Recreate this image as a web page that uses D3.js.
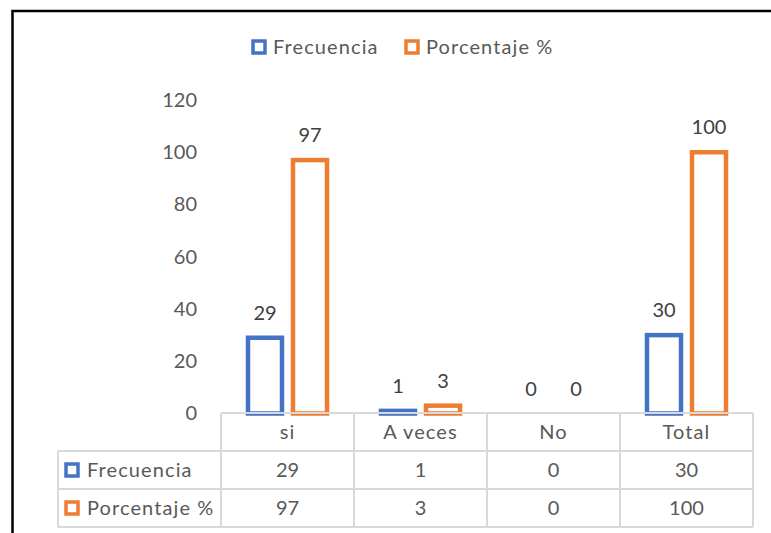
<!DOCTYPE html>
<html>
<head>
<meta charset="UTF-8">
<title></title>
<style>
  body { margin: 0; background: #fff; }
  text { font-family: Lato, "Open Sans", sans-serif; }
  .palabra { letter-spacing: 1.1px; }
</style>
</head>
<body>
<svg width="771" height="533"></svg>
<script src="https://cdn.jsdelivr.net/npm/d3@7"></script>
<script>
// datos
var categorias = ["si", "A veces", "No", "Total"];
var series = ["Frecuencia", "Porcentaje %"];
var frecuencia = [29, 1, 0, 30];
var porcentaje = [97, 3, 0, 100];
var ticksY = [0, 20, 40, 60, 80, 100, 120];

var colores = ["#4472C4", "#ED7D31"];
var valores = [frecuencia, porcentaje];
var fs = 20;

var svg = d3.select("svg");

// marco del grafico
svg.append("rect")
  .attr("x", 12.5).attr("y", 11)
  .attr("width", 800).attr("height", 600)
  .attr("fill", "#fff")
  .attr("stroke", "#000").attr("stroke-width", 2.5);

var x = d3.scaleBand().domain(categorias).range([221, 753]);
var x1 = d3.scaleBand().domain(series).range([-45, 45]);
var y = d3.scaleLinear().domain([0, 120]).range([413.5, 100]);
var anchoBarra = 34;

// eje Y
var ejeY = svg.append("g")
  .attr("transform", "translate(200,0)")
  .call(d3.axisLeft(y).tickValues(ticksY).tickSize(0).tickPadding(3));
ejeY.select(".domain").remove();
ejeY.selectAll("text")
  .attr("font-family", "Lato, sans-serif")
  .attr("font-size", fs)
  .attr("fill", "#595959");

// barras
series.forEach(function(s, i) {
  var datos = categorias.map(function(c, j) { return {cat: c, v: valores[i][j]}; });
  var g = svg.append("g");
  g.selectAll("rect")
    .data(datos.filter(function(d) { return d.v > 0; }))
    .join("rect")
    .attr("x", function(d) { return x(d.cat) + x.bandwidth() / 2 + x1(s) + (x1.bandwidth() - anchoBarra) / 2; })
    .attr("y", function(d) { return y(d.v); })
    .attr("width", anchoBarra)
    .attr("height", function(d) { return y(0) - y(d.v); })
    .attr("fill", "#fff")
    .attr("stroke", colores[i])
    .attr("stroke-width", 4.5);
  g.selectAll("text")
    .data(datos)
    .join("text")
    .attr("x", function(d) { return x(d.cat) + x.bandwidth() / 2 + x1(s) + x1.bandwidth() / 2; })
    .attr("y", function(d) { return y(d.v) - 18; })
    .attr("text-anchor", "middle")
    .attr("font-size", fs)
    .attr("fill", "#404040")
    .text(function(d) { return d.v; });
});

// tabla de datos
var gris = "#D9D9D9";
var filas = [413, 451, 489, 527];
var tabla = svg.append("g").attr("stroke", gris).attr("stroke-width", 2);
tabla.append("line").attr("x1", 221).attr("x2", 753).attr("y1", filas[0]).attr("y2", filas[0]);
filas.slice(1).forEach(function(f) {
  tabla.append("line").attr("x1", 58).attr("x2", 753).attr("y1", f).attr("y2", f);
});
tabla.append("line").attr("x1", 58).attr("x2", 58).attr("y1", filas[1]).attr("y2", filas[3]);
x.domain().forEach(function(c) {
  tabla.append("line").attr("x1", x(c)).attr("x2", x(c)).attr("y1", filas[0]).attr("y2", filas[3]);
});
tabla.append("line").attr("x1", 753).attr("x2", 753).attr("y1", filas[0]).attr("y2", filas[3]);

svg.selectAll(".cat")
  .data(categorias)
  .join("text")
  .attr("class", "cat palabra")
  .attr("x", function(d) { return x(d) + x.bandwidth() / 2; })
  .attr("y", (filas[0] + filas[1]) / 2 + 7)
  .attr("text-anchor", "middle")
  .attr("font-size", fs)
  .attr("fill", "#595959")
  .text(function(d) { return d; });

series.forEach(function(s, i) {
  var cy = (filas[i + 1] + filas[i + 2]) / 2;
  svg.append("rect")
    .attr("x", 66).attr("y", cy - 6)
    .attr("width", 12).attr("height", 12)
    .attr("fill", "#fff").attr("stroke", colores[i]).attr("stroke-width", 3.5);
  svg.append("text")
    .attr("class", "palabra")
    .attr("x", 87).attr("y", cy + 7)
    .attr("font-size", fs).attr("fill", "#595959")
    .text(s);
  svg.selectAll(".val" + i)
    .data(valores[i])
    .join("text")
    .attr("x", function(d, j) { return x(categorias[j]) + x.bandwidth() / 2; })
    .attr("y", cy + 7)
    .attr("text-anchor", "middle")
    .attr("font-size", fs).attr("fill", "#595959")
    .text(function(d) { return d; });
});

// leyenda
var leyX = [253, 406];
series.forEach(function(s, i) {
  svg.append("rect")
    .attr("x", leyX[i]).attr("y", 41)
    .attr("width", 12).attr("height", 12)
    .attr("fill", "#fff").attr("stroke", colores[i]).attr("stroke-width", 3.5);
  svg.append("text")
    .attr("class", "palabra")
    .attr("x", leyX[i] + 20).attr("y", 54)
    .attr("font-size", fs).attr("fill", "#595959")
    .text(s);
});
</script>
</body>
</html>
